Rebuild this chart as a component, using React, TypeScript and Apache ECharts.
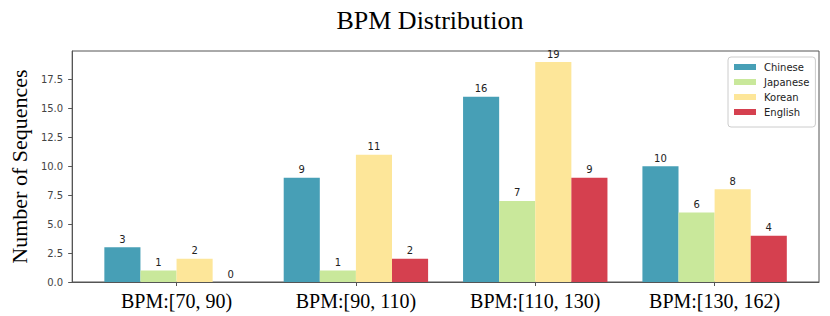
import React, { useEffect, useRef } from "react";
import * as echarts from "echarts";

const categories = ["BPM:[70, 90)", "BPM:[90, 110)", "BPM:[110, 130)", "BPM:[130, 162)"];
const seriesNames = ["Chinese", "Japanese", "Korean", "English"];
const chinese = [3, 9, 16, 10];
const japanese = [1, 1, 7, 6];
const korean = [2, 11, 19, 8];
const english = [0, 2, 9, 4];
const yTicks = [0, 2.5, 5, 7.5, 10, 12.5, 15, 17.5];
const colors = ["#479FB6", "#C9E89B", "#FDE699", "#D5404F"];

export default function App() {
  const ref = useRef<HTMLDivElement>(null);
  useEffect(() => {
    if (!ref.current) return;
    const chart = echarts.init(ref.current, undefined, { renderer: "svg" });
    const values = [chinese, japanese, korean, english];
    const serif = "'Liberation Serif', 'Times New Roman', serif";
    const sans = "'DejaVu Sans', sans-serif";
    chart.setOption({
      animation: false,
      title: {
        text: "BPM Distribution",
        left: 425,
        textAlign: "center",
        top: 2,
        textStyle: { fontFamily: serif, fontSize: 26, fontWeight: "normal", color: "#000" },
      },
      legend: {
        orient: "vertical",
        left: 728,
        top: 57,
        itemWidth: 22,
        itemHeight: 6,
        itemGap: 3,
        padding: [4, 6, 9, 6],
        borderColor: "#cccccc",
        borderWidth: 1,
        borderRadius: 3,
        backgroundColor: "#fff",
        icon: "rect",
        textStyle: { fontFamily: sans, fontSize: 10, lineHeight: 12, color: "#222", padding: [0, 0, 0, 3] },
        data: seriesNames,
      },
      grid: {
        left: 68,
        right: 11,
        top: 51,
        bottom: 34,
        show: true,
        borderColor: "#555",
        borderWidth: 1,
        backgroundColor: "transparent",
      },
      xAxis: {
        type: "value",
        min: -0.582,
        max: 3.582,
        splitLine: { show: false },
        axisLine: { show: true, onZero: false, lineStyle: { color: "#555" } },
        axisTick: { show: true, length: 4, lineStyle: { color: "#555" }, customValues: [0, 1, 2, 3] },
        axisLabel: {
          customValues: [0, 1, 2, 3],
          formatter: (v: number) => categories[Math.round(v)] ?? "",
          fontFamily: serif,
          fontSize: 20,
          color: "#000",
          margin: 9,
        },
      },
      yAxis: {
        type: "value",
        min: 0,
        max: 19.95,
        name: "Number of Sequences",
        nameLocation: "middle",
        nameGap: 27,
        nameTextStyle: { fontFamily: serif, fontSize: 22, color: "#000" },
        splitLine: { show: false },
        axisLine: { show: true, onZero: false, lineStyle: { color: "#555" } },
        axisTick: { show: true, length: 4, lineStyle: { color: "#555" }, customValues: yTicks },
        axisLabel: {
          customValues: yTicks,
          formatter: (v: number) => v.toFixed(1),
          fontFamily: sans,
          fontSize: 10,
          color: "#444",
          margin: 9,
        },
      },
      series: seriesNames.map((name, si) => ({
        name,
        type: "bar",
        barWidth: 36.1,
        barGap: "0%",
        itemStyle: { color: colors[si] },
        label: {
          show: true,
          position: "top",
          distance: 3,
          fontFamily: sans,
          fontSize: 10,
          color: "#222",
        },
        data: values[si].map((v, i) => [i, v]),
      })),
    });
    return () => chart.dispose();
  }, []);
  return (
    <div
      ref={ref}
      style={{ position: "absolute", left: 0, top: 0, width: 830, height: 316 }}
    />
  );
}
